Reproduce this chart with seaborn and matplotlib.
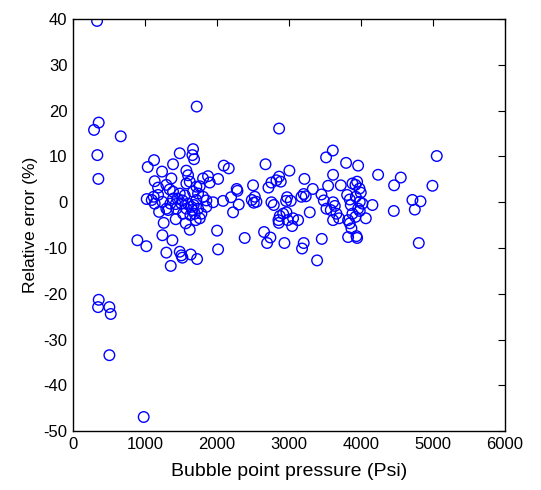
import seaborn as sns
import matplotlib.pyplot as plt
import pandas as pd

# bubble point pressure (psi) and relative error (%)
pressure = [
    334, 292, 357, 338, 352, 663, 1719, 2864, 357, 348, 505, 524, 505, 982, 894, 1019,
    # right region
    5055, 4995, 4805, 4717, 4750, 4829, 4458, 4462, 4555, 4240, 4161, 4069, 3962, 3795,
    3610, 3517, 3614, 3721, 3545, 3452, 3332, 3485, 3522, 3582, 3614, 3614, 3661, 3638,
    3698, 3457, 3392, 3290, 3809, 3846, 3883, 3925, 3948, 3981, 3999, 3930, 3985, 4022,
    3962, 3985, 3823, 3846, 3869, 3823, 3939, 3948, 3925, 3883, 3860,
    # middle region
    3216, 3206, 3174, 3234, 3206, 3183, 3007, 2938, 3058, 3045, 2984, 2966, 2975, 2961,
    3026, 3128, 2864, 2887, 2827, 2873, 2855, 2860, 2920, 2757, 2716, 2675, 2757, 2790,
    2655, 2697, 2743, 2502, 2526, 2484, 2549, 2512, 2386, 2275, 2285, 2303, 2224, 2164,
    2095, 2196, 2085, 2016, 2002, 2016,
    # dense region
    1483, 1668, 1659, 1682, 1126, 1038, 1390, 1237, 1135, 1367, 1575, 1599, 1622, 1182,
    1297, 1390, 1807, 1876, 1900, 1761, 1024, 1094, 1121, 1242, 1196, 1260, 1242, 1297,
    1358, 1381, 1427, 1483, 1506, 1520, 1636, 1724, 1622, 1566, 1450, 1506, 1552, 1575,
    1645, 1659, 1677, 1691, 1714, 1738, 1705, 1631, 1599, 1738, 1807, 1853, 1784, 1946,
    1321, 1353, 1390, 1297, 1436, 1529, 1761, 1182, 1135, 1344, 1483, 1714, 1575, 1668,
    1853, 1520, 1427,
]
rel_error = [
    39.6, 15.8, 17.4, 10.3, 5.1, 14.4, 20.9, 16.1, -21.3, -22.9, -22.9, -24.4, -33.4, -46.9, -8.3, -9.6,
    # right region
    10.1, 3.6, -8.9, 0.5, -1.6, 0.2, -1.9, 3.7, 5.4, 6.0, -0.6, -3.5, 8.0, 8.6,
    11.3, 9.8, 6.0, 3.7, 3.6, 1.7, 2.9, 0.4, -1.4, -1.7, 0.0, -3.9, -2.5, -0.8,
    -3.5, -8.0, -12.7, -2.2, 1.6, 0.6, 4.1, 3.8, 4.5, 3.0, 2.1, 1.2, 0.1, -0.3,
    -1.4, -1.9, -3.9, -4.6, -5.7, -7.6, -7.4, -7.8, -3.2, -2.5, -0.6,
    # middle region
    5.1, 1.8, 1.2, 1.3, -8.9, -10.1, 6.9, -8.9, -3.5, -5.2, -3.9, -2.2, 1.1, 0.3,
    0.3, -3.9, 5.6, 4.5, 4.8, -3.0, -3.9, -4.5, -2.5, 4.3, 3.2, 8.3, 0.0, -0.6,
    -6.5, -8.9, -7.7, 3.7, 1.2, 0.5, 0.1, -0.1, -7.8, 2.9, 2.5, -0.5, -2.2, 7.4,
    8.0, 1.1, 0.3, 5.1, -6.2, -10.3,
    # dense region
    10.7, 11.6, 10.3, 9.4, 9.2, 7.7, 8.3, 6.7, 4.6, 5.2, 6.9, 5.9, 4.5, 3.2,
    3.8, 2.3, 5.2, 5.7, 4.3, 3.5, 0.7, 0.5, 1.2, 0.1, -2.1, -4.5, -7.2, -11.0,
    -13.9, -8.3, -3.7, -10.8, -11.6, -12.1, -11.4, -12.4, -6.0, -4.6, 0.8, -0.3, 1.5, -1.4,
    -1.0, -1.7, -0.6, -2.5, 0.5, -1.4, -3.9, -2.8, -0.3, 1.9, 1.2, -1.0, -2.5, 0.0,
    -1.7, -0.3, 0.8, -1.4, -1.4, -2.5, -3.5, 1.6, -0.3, 2.8, 1.9, 3.4, 4.1, 2.3,
    0.4, 0.4, -0.4,
]

df = pd.DataFrame({"pressure": pressure, "error": rel_error})

sns.set_style("white")
plt.rcParams['font.family'] = ['Liberation Sans', 'DejaVu Sans']
plt.rcParams['axes.unicode_minus'] = False

fig, ax = plt.subplots(figsize=(5.41, 4.9), dpi=100)
fig.subplots_adjust(left=0.135, right=0.933, top=0.961, bottom=0.12)

sns.scatterplot(ax=ax, data=df, x="pressure", y="error", marker="o",
                facecolor="none", edgecolor="#0000ff", linewidth=1.0, s=58)

ax.set_xlim(0, 6000)
ax.set_ylim(-50, 40)
ax.set_xticks(range(0, 6001, 1000))
ax.set_yticks(range(-50, 41, 10))
ax.tick_params(direction="in", length=5, width=0.8, top=True, right=True,
               labelsize=12, colors="black", pad=4)
for sp in ax.spines.values():
    sp.set_color("black")
    sp.set_linewidth(1.0)
ax.set_xlabel("Bubble point pressure (Psi)", fontsize=14, labelpad=8, color="black")
ax.set_ylabel("Relative error (%)", fontsize=12.5, labelpad=4, color="black")

plt.savefig("out.png", dpi=100)
